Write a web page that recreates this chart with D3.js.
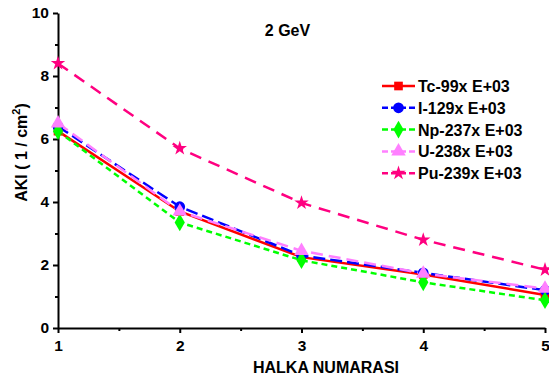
<!DOCTYPE html>
<html>
<head>
<style>
  body { margin: 0; background: #fff; }
  svg text { font-family: Arial, "Liberation Sans", sans-serif; font-weight: bold; }
</style>
</head>
<body>
<svg width="549" height="382"></svg>
<script src="https://d3js.org/d3.v7.min.js"></script>
<script>
// halka numaralari
var rings = [1, 2, 3, 4, 5];
var tc99 = [6.25, 3.7, 2.25, 1.7, 1.05];
var i129 = [6.4, 3.85, 2.3, 1.75, 1.2];
var np237 = [6.25, 3.35, 2.15, 1.45, 0.88];
var u238 = [6.5, 3.7, 2.45, 1.73, 1.25];
var pu239 = [8.4, 5.7, 3.97, 2.8, 1.85];
var names = ["Tc-99x E+03", "I-129x E+03", "Np-237x E+03", "U-238x E+03", "Pu-239x E+03"];
var yTicks = [0, 2, 4, 6, 8, 10];

var series = [
  { name: names[0], values: tc99, color: "#ff0000", dash: null, symbol: d3.symbolSquare, size: 75 },
  { name: names[1], values: i129, color: "#0000ff", dash: "12,5", symbol: d3.symbolCircle, size: 90 },
  { name: names[2], values: np237, color: "#00ff00", dash: "6,4", symbol: d3.symbolDiamond, size: 90 },
  { name: names[3], values: u238, color: "#ff80ff", dash: "12,6", symbol: d3.symbolTriangle, size: 90 },
  { name: names[4], values: pu239, color: "#ff0080", dash: "12,8", symbol: d3.symbolStar, size: 65 }
];

var svg = d3.select("svg");
var x = d3.scaleLinear().domain([1, 5]).range([58, 545]);
var y = d3.scaleLinear().domain([0, 10]).range([328, 13]);

// axes
var xAxis = svg.append("g").attr("transform", "translate(0,328)");
xAxis.call(d3.axisBottom(x).tickValues(d3.range(1, 5.01, 0.5)).tickSize(5).tickSizeOuter(0)
  .tickFormat(function (d) { return Number.isInteger(d) ? d : ""; }));
xAxis.selectAll(".tick line").attr("y2", function (d) { return Number.isInteger(d) ? 5 : 3; });
var yAxis = svg.append("g").attr("transform", "translate(58,0)");
yAxis.call(d3.axisLeft(y).tickValues(d3.range(0, 10.01, 1)).tickSize(5).tickSizeOuter(0)
  .tickFormat(function (d) { return yTicks.indexOf(d) >= 0 ? d : ""; }));
yAxis.selectAll(".tick line").attr("x2", function (d) { return d % 2 === 0 ? -5 : -3; });
svg.selectAll(".domain, .tick line").attr("stroke", "#000").attr("stroke-width", 2);
xAxis.selectAll("text").attr("font-size", 15.5).attr("dy", "0.95em").attr("fill", "#000");
yAxis.selectAll("text").attr("font-size", 15.5).attr("dx", "-1").attr("fill", "#000");

// lines + markers
var line = d3.line().x(function (d, i) { return x(rings[i]); }).y(function (d) { return y(d); });
series.forEach(function (s) {
  svg.append("path").datum(s.values).attr("fill", "none").attr("stroke", s.color)
    .attr("stroke-width", 2.5).attr("stroke-dasharray", s.dash).attr("d", line);
});
series.forEach(function (s) {
  svg.selectAll(null).data(s.values).enter().append("path")
    .attr("d", d3.symbol().type(s.symbol).size(s.size))
    .attr("fill", s.color)
    .attr("transform", function (d, i) { return "translate(" + x(rings[i]) + "," + y(d) + ")"; });
});

// legend
series.forEach(function (s, i) {
  var ly = 86 + i * 21.8;
  svg.append("line").attr("x1", 382).attr("x2", 415).attr("y1", ly).attr("y2", ly)
    .attr("stroke", s.color).attr("stroke-width", 2.5).attr("stroke-dasharray", s.dash ? "6,3" : null);
  svg.append("path").attr("d", d3.symbol().type(s.symbol).size(s.size))
    .attr("fill", s.color).attr("transform", "translate(398.5," + ly + ")");
  svg.append("text").attr("x", 418).attr("y", ly + 6).attr("font-size", 16).text(s.name);
});

svg.append("text").attr("x", 287.5).attr("y", 36).attr("text-anchor", "middle").attr("font-size", 16).text("2 GeV");
svg.append("text").attr("x", 326).attr("y", 372.5).attr("text-anchor", "middle").attr("font-size", 16).text("HALKA NUMARASI");
var yl = svg.append("text").attr("transform", "translate(27,152.5) rotate(-90)").attr("text-anchor", "middle").attr("font-size", 16);
yl.append("tspan").text("AKI ( 1 / cm");
yl.append("tspan").attr("font-size", 11).attr("dy", -7).text("2");
yl.append("tspan").attr("dy", 7).text(")");
</script>
</body>
</html>
